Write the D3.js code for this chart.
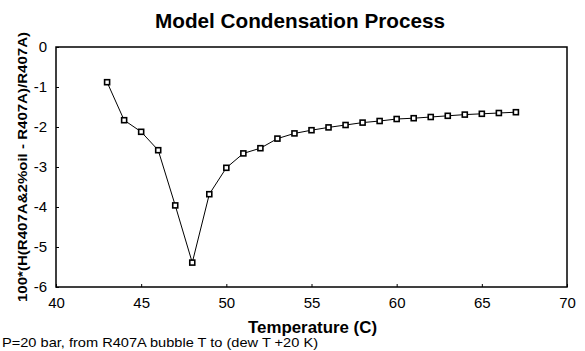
<!DOCTYPE html>
<html><head><meta charset="utf-8">
<script src="https://cdn.jsdelivr.net/npm/d3@7"></script>
<style>body{margin:0;background:#fff;} svg{display:block;font-family:"Liberation Sans",Arial,sans-serif;}</style>
</head><body>
<svg id="c" width="585" height="351"></svg>
<script>
const temps = [43,44,45,46,47,48,49,50,51,52,53,54,55,56,57,58,59,60,61,62,63,64,65,66,67];
const values = [-0.88,-1.83,-2.12,-2.58,-3.96,-5.39,-3.68,-3.02,-2.66,-2.53,-2.29,-2.16,-2.08,-2.01,-1.95,-1.89,-1.85,-1.80,-1.78,-1.75,-1.72,-1.69,-1.67,-1.65,-1.63];
const xTicks = [40,45,50,55,60,65,70];
const yTicks = [0,-1,-2,-3,-4,-5,-6];
const title = "Model Condensation Process";
const xTitle = "Temperature (C)";
const yTitle = "100*(H(R407A&2%oil - R407A)/R407A)";
const note = "P=20 bar, from R407A bubble T to (dew T +20 K)";

const svg = d3.select("#c");
const L=56, R=567, T=47, B=287;
const x = d3.scaleLinear().domain([40,70]).range([L,R]);
const y = d3.scaleLinear().domain([-6,0]).range([B,T]);

svg.append("rect").attr("x",L).attr("y",T).attr("width",R-L).attr("height",B-T)
  .attr("fill","none").attr("stroke","#000").attr("stroke-width",1.5);

const fmt = d => String(d);
const gx = svg.append("g").attr("transform",`translate(0,${B})`)
  .call(d3.axisBottom(x).tickValues(xTicks).tickSize(-3).tickPadding(10).tickFormat(fmt));
const gy = svg.append("g").attr("transform",`translate(${L},0)`)
  .call(d3.axisLeft(y).tickValues(yTicks).tickSize(-3).tickPadding(8).tickFormat(fmt));
[gx,gy].forEach(g=>{
  g.select(".domain").remove();
  g.selectAll("line").attr("stroke","#000").attr("stroke-width",1);
  g.selectAll("text").attr("font-size",15).attr("fill","#000").attr("font-family","Liberation Sans, Arial, sans-serif");
});
gy.selectAll("text").attr("dx",-1).attr("dy","0.3em");

const data = temps.map((t,i)=>({t,v:values[i]}));
svg.append("path").datum(data)
  .attr("d",d3.line().x(d=>x(d.t)).y(d=>y(d.v)))
  .attr("fill","none").attr("stroke","#000").attr("stroke-width",1);
svg.append("g").selectAll("rect").data(data).join("rect")
  .attr("x",d=>x(d.t)-2.5).attr("y",d=>y(d.v)-2.5).attr("width",5).attr("height",5)
  .attr("fill","#fff").attr("stroke","#000").attr("stroke-width",1.6);

svg.append("text").attr("x",155).attr("y",28)
  .attr("font-size",21).attr("font-weight","bold")
  .attr("textLength",290).attr("lengthAdjust","spacingAndGlyphs").text(title);
svg.append("text").attr("x",248).attr("y",333)
  .attr("font-size",16).attr("font-weight","bold")
  .attr("textLength",129).attr("lengthAdjust","spacingAndGlyphs").text(xTitle);
svg.append("text").attr("transform",`translate(27,302) rotate(-90)`)
  .attr("font-size",13).attr("font-weight","bold")
  .attr("textLength",270).attr("lengthAdjust","spacingAndGlyphs").text(yTitle);
svg.append("text").attr("x",2).attr("y",347).attr("font-size",13.5)
  .attr("textLength",316).attr("lengthAdjust","spacingAndGlyphs").text(note);
</script>
</body></html>
